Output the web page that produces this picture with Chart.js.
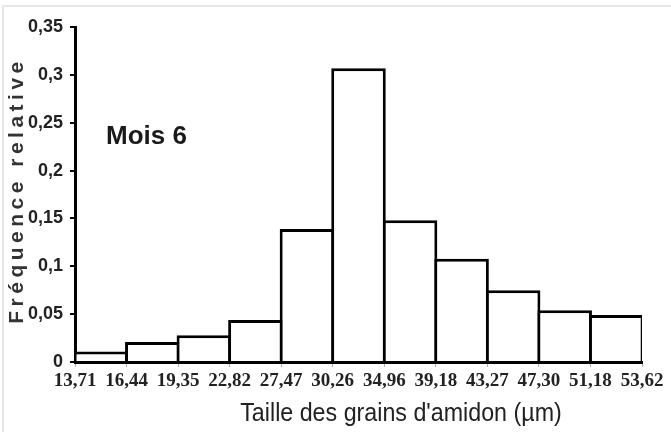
<!DOCTYPE html>
<html><head><meta charset="utf-8">
<script src="https://cdn.jsdelivr.net/npm/chart.js@4/dist/chart.umd.min.js"></script>
<style>html,body{margin:0;padding:0;background:#fff}canvas{display:block}</style>
</head><body>
<canvas id="c" width="671" height="432"></canvas>
<script>
// ---- data ----
const binEdges = ['13,71','16,44','19,35','22,82','27,47','30,26','34,96','39,18','43,27','47,30','51,18','53,62'];
const frequencies = [0.011, 0.021, 0.028, 0.044, 0.139, 0.307, 0.148, 0.108, 0.075, 0.054, 0.049];
const yMin = 0, yMax = 0.35, yStep = 0.05;
const xTitle = "Taille des grains d'amidon (µm)";
const yTitle = 'Fréquence relative';
const annotation = 'Mois 6';

const textPlugin = {
  id: 'texts',
  beforeDraw(chart) {
    const ctx = chart.ctx;
    ctx.save();
    ctx.strokeStyle = '#e6e6e6';
    ctx.lineWidth = 2;
    ctx.strokeRect(3, 6, 700, 500);
    ctx.restore();
  },
  afterDraw(chart) {
    const ctx = chart.ctx;
    const a = chart.chartArea;
    ctx.save();
    // y title
    ctx.translate(17, (a.top + a.bottom) / 2 - 4);
    ctx.rotate(-Math.PI / 2);
    ctx.font = "bold 21px 'Liberation Sans', Arial, sans-serif";
    ctx.letterSpacing = '4.5px';
    ctx.fillStyle = '#333';
    ctx.textAlign = 'center';
    ctx.textBaseline = 'middle';
    ctx.fillText(yTitle, 0, 0);
    ctx.restore();
    // x title (condensed look)
    ctx.save();
    ctx.translate(401, 414);
    ctx.scale(0.93, 1);
    ctx.font = "25px 'Liberation Sans', Arial, sans-serif";
    ctx.fillStyle = '#222';
    ctx.textAlign = 'center';
    ctx.textBaseline = 'middle';
    ctx.fillText(xTitle, 0, 0);
    ctx.restore();
    // annotation
    ctx.save();
    ctx.font = "bold 26px 'Liberation Sans', Arial, sans-serif";
    ctx.fillStyle = '#1a1a1a';
    ctx.textAlign = 'left';
    ctx.textBaseline = 'middle';
    ctx.fillText(annotation, 106, 137);
    ctx.restore();
  }
};

new Chart(document.getElementById('c'), {
  type: 'bar',
  data: {
    datasets: [{
      data: frequencies.map((v, i) => ({ x: i + 0.5, y: v })),
      backgroundColor: '#ffffff',
      borderColor: '#000000',
      borderWidth: { top: 3, left: 3, right: 3, bottom: 0 },
      borderSkipped: false,
      barPercentage: 1.058,
      categoryPercentage: 1
    }]
  },
  options: {
    responsive: false,
    animation: false,
    layout: { padding: { left: 0, right: 29, top: 27, bottom: 0 } },
    plugins: { legend: { display: false }, tooltip: { enabled: false } },
    scales: {
      x: {
        type: 'linear',
        offset: false,
        min: 0,
        max: binEdges.length - 1,
        afterFit: s => { s.height = 70; },
        grid: { offset: false, drawOnChartArea: false, drawTicks: true, tickLength: 5, color: '#b0b0b0' },
        border: { display: true, color: '#000', width: 3 },
        ticks: {
          stepSize: 1, autoSkip: false, maxRotation: 0, padding: 3,
          color: '#222',
          font: { family: "'Liberation Serif', 'Times New Roman', serif", size: 19, weight: 'bold' },
          callback: v => binEdges[v] ?? ''
        }
      },
      y: {
        min: yMin, max: yMax,
        afterFit: s => { s.width = 75; },
        grid: { drawOnChartArea: false, drawTicks: true, tickLength: 5, color: '#000', lineWidth: 2 },
        border: { display: true, color: '#000', width: 3 },
        ticks: {
          stepSize: yStep, padding: 7,
          color: '#222',
          font: { family: "'Liberation Sans', Arial, sans-serif", size: 18, weight: 'bold' },
          callback: v => String(Math.round(v * 100) / 100).replace('.', ',')
        }
      }
    }
  },
  plugins: [textPlugin]
});
</script>
</body></html>
